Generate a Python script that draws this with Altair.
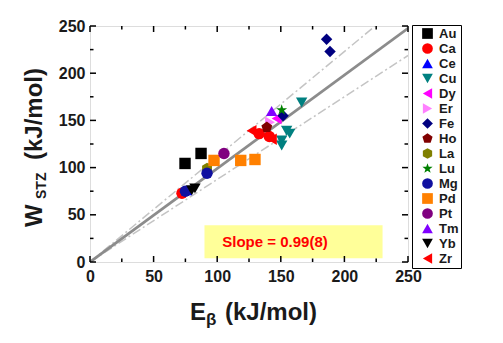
import altair as alt
import pandas as pd

# ---------------- data ----------------
elements = ["Au", "Ca", "Ce", "Cu", "Dy", "Er", "Fe", "Ho", "La", "Lu",
            "Mg", "Pd", "Pt", "Tm", "Yb", "Zr"]
colors = ["#000000", "#ff0000", "#0000ff", "#008080", "#ff00ff", "#ff80ff",
          "#000080", "#800000", "#808000", "#008000", "#1010a0", "#ff8000",
          "#800080", "#8000ff", "#000000", "#ff0000"]

pentagon = "M0,-1L0.951,-0.309L0.588,0.809L-0.588,0.809L-0.951,-0.309Z"
hexagon = "M0,-1L0.866,-0.5L0.866,0.5L0,1L-0.866,0.5L-0.866,-0.5Z"
star = ("M0,-1L0.235,-0.324L0.951,-0.309L0.38,0.124L0.588,0.809L0,0.4"
        "L-0.588,0.809L-0.38,0.124L-0.951,-0.309L-0.235,-0.324Z")
shapes = ["square", "circle", "triangle-up", "triangle-down", "triangle-left",
          "triangle-right", "diamond", pentagon, hexagon, star, "circle",
          "square", "circle", "triangle-up", "triangle-down", "triangle-left"]

au_x, au_y = [74.7, 87.3], [104.4, 115.0]
ca_x, ca_y = [72.3, 133.0, 141.0], [72.8, 136.0, 133.0]
ce_x, ce_y = [76.0], [76.0]
cu_x, cu_y = [166.4, 154.6, 157.0, 150.7, 150.7], [169.0, 139.0, 136.0, 128.7, 123.4]
dy_x, dy_y = [146.7], [152.0]
er_x, er_y = [141.5], [148.0]
fe_x, fe_y = [186.0, 188.7, 151.8], [236.0, 223.0, 155.0]
ho_x, ho_y = [139.0], [142.7]
la_x, la_y = [92.0], [99.0]
lu_x, lu_y = [150.7], [161.0]
mg_x, mg_y = [92.0, 75.0], [94.0, 75.0]
pd_x, pd_y = [97.5, 118.5, 129.7], [107.6, 107.6, 108.6]
pt_x, pt_y = [105.3], [115.0]
tm_x, tm_y = [142.8], [160.0]
yb_x, yb_y = [82.5, 80.0], [78.0, 76.0]
zr_x, zr_y = [127.0, 143.0], [139.0, 130.0]

series = {"Au": (au_x, au_y), "Ca": (ca_x, ca_y), "Ce": (ce_x, ce_y),
          "Cu": (cu_x, cu_y), "Dy": (dy_x, dy_y), "Er": (er_x, er_y),
          "Fe": (fe_x, fe_y), "Ho": (ho_x, ho_y), "La": (la_x, la_y),
          "Lu": (lu_x, lu_y), "Mg": (mg_x, mg_y), "Pd": (pd_x, pd_y),
          "Pt": (pt_x, pt_y), "Tm": (tm_x, tm_y), "Yb": (yb_x, yb_y),
          "Zr": (zr_x, zr_y)}

fit_slope = 0.99
band_slopes = [1.115, 0.875]
line_x = [0, 250]

major_ticks = [0, 50, 100, 150, 200, 250]
minor_ticks = [25, 75, 125, 175, 225]

box_x, box_x2, box_y, box_y2 = 90, 230, 4, 39
slope_label = "Slope = 0.99(8)"
slope_x, slope_y = 104, 21.5

# ---------------- build ----------------
rows = []
for el in elements:
    xs, ys = series[el]
    for a, b in zip(xs, ys):
        rows.append({"x": a, "y": b, "el": el})
pts = pd.DataFrame(rows)

W, H = 318, 236
FONT = "Liberation Sans"

xscale = alt.Scale(domain=[0, 250], nice=False)
yscale = alt.Scale(domain=[0, 250], nice=False)
xaxis = alt.Axis(values=major_ticks, ticks=False, domain=False, grid=False,
                 title=None, labelFont=FONT, labelFontSize=16,
                 labelFontWeight="bold", labelColor="#1a1a1a", labelPadding=6,
                 labelFlush=False)
yaxis = alt.Axis(values=major_ticks, ticks=False, domain=False, grid=False,
                 title=None, labelFont=FONT, labelFontSize=16,
                 labelFontWeight="bold", labelColor="#1a1a1a", labelPadding=5,
                 labelFlush=False)
X = alt.X("x:Q", scale=xscale, axis=xaxis)
Y = alt.Y("y:Q", scale=yscale, axis=yaxis)

legend = alt.Legend(title=None, orient="none", legendX=322, legendY=-1,
                    strokeColor="black", fillColor="white", padding=2,
                    symbolOffset=7,
                    labelFont=FONT, labelFontSize=13, labelFontWeight="bold",
                    labelColor="#1a1a1a", symbolSize=115, symbolStrokeWidth=0,
                    labelOffset=5, rowPadding=1, symbolOpacity=1)

points = alt.Chart(pts).mark_point(filled=True, size=130, opacity=1,
                                   strokeWidth=0).encode(
    x=X, y=Y,
    color=alt.Color("el:N", scale=alt.Scale(domain=elements, range=colors),
                    legend=legend),
    shape=alt.Shape("el:N", scale=alt.Scale(domain=elements, range=shapes),
                    legend=legend),
)

fit_df = pd.DataFrame({"x": line_x, "y": [fit_slope * v for v in line_x]})
fit = alt.Chart(fit_df).mark_line(color="#8c8c8c", strokeWidth=2.8,
                                  clip=True).encode(x=X, y=Y)

band_rows = []
for i, s in enumerate(band_slopes):
    for v in line_x:
        band_rows.append({"x": v, "y": s * v, "k": i})
band_df = pd.DataFrame(band_rows)
bands = alt.Chart(band_df).mark_line(color="#c4c4c4", strokeWidth=1.5,
                                     strokeDash=[9, 3, 2, 3],
                                     clip=True).encode(
    x=X, y=Y, detail="k:N")

box_df = pd.DataFrame({"x": [box_x], "x2": [box_x2], "y": [box_y],
                       "y2": [box_y2]})
box = alt.Chart(box_df).mark_rect(color="#ffff99").encode(
    x=X, x2="x2:Q", y=Y, y2="y2:Q")

slope_df = pd.DataFrame({"x": [slope_x], "y": [slope_y], "t": [slope_label]})
slope_txt = alt.Chart(slope_df).mark_text(
    color="#ff0000", font=FONT, fontSize=15, fontWeight="bold",
    align="left", baseline="middle").encode(x=X, y=Y, text="t:N")

# inward ticks on all four sides
maj_df = pd.DataFrame({"x": major_ticks, "y": major_ticks})
min_df = pd.DataFrame({"x": minor_ticks, "y": minor_ticks})
tick_layers = []
for d, L in ((maj_df, 6), (min_df, 3.5)):
    base = alt.Chart(d).mark_rule(color="black", strokeWidth=1.5)
    tick_layers.append(base.encode(x=X, y=alt.value(H), y2=alt.value(H - L)))
    tick_layers.append(base.encode(x=X, y=alt.value(0), y2=alt.value(L)))
    tick_layers.append(base.encode(y=Y, x=alt.value(0), x2=alt.value(L)))
    tick_layers.append(base.encode(y=Y, x=alt.value(W), x2=alt.value(W - L)))

# axis titles with subscripts
def txt(s, x, y, size, angle=0):
    return alt.Chart(pd.DataFrame({"t": [s]})).mark_text(
        font=FONT, fontSize=size, fontWeight="bold", color="#1a1a1a",
        align="left", baseline="alphabetic", angle=angle).encode(
        x=alt.value(x), y=alt.value(y), text="t:N")

xt = [txt("E", 100, 294, 24), txt("β", 116, 299, 17),
      txt("(kJ/mol)", 135, 294, 24)]
yt = [txt("W", -48, 201, 24, 270), txt("STZ", -44, 173, 14, 270),
      txt("(kJ/mol)", -48, 134, 24, 270)]

chart = alt.layer(box, bands, fit, points, slope_txt, *tick_layers, *xt, *yt).properties(
    width=W, height=H,
    autosize=alt.AutoSizeParams(type="none"),
    padding={"left": 90, "top": 26, "right": 95, "bottom": 81},
).configure_view(stroke="black", strokeWidth=1.5).configure(background="white")

chart.save("out.html", embed_options={"renderer": "svg", "actions": False})
